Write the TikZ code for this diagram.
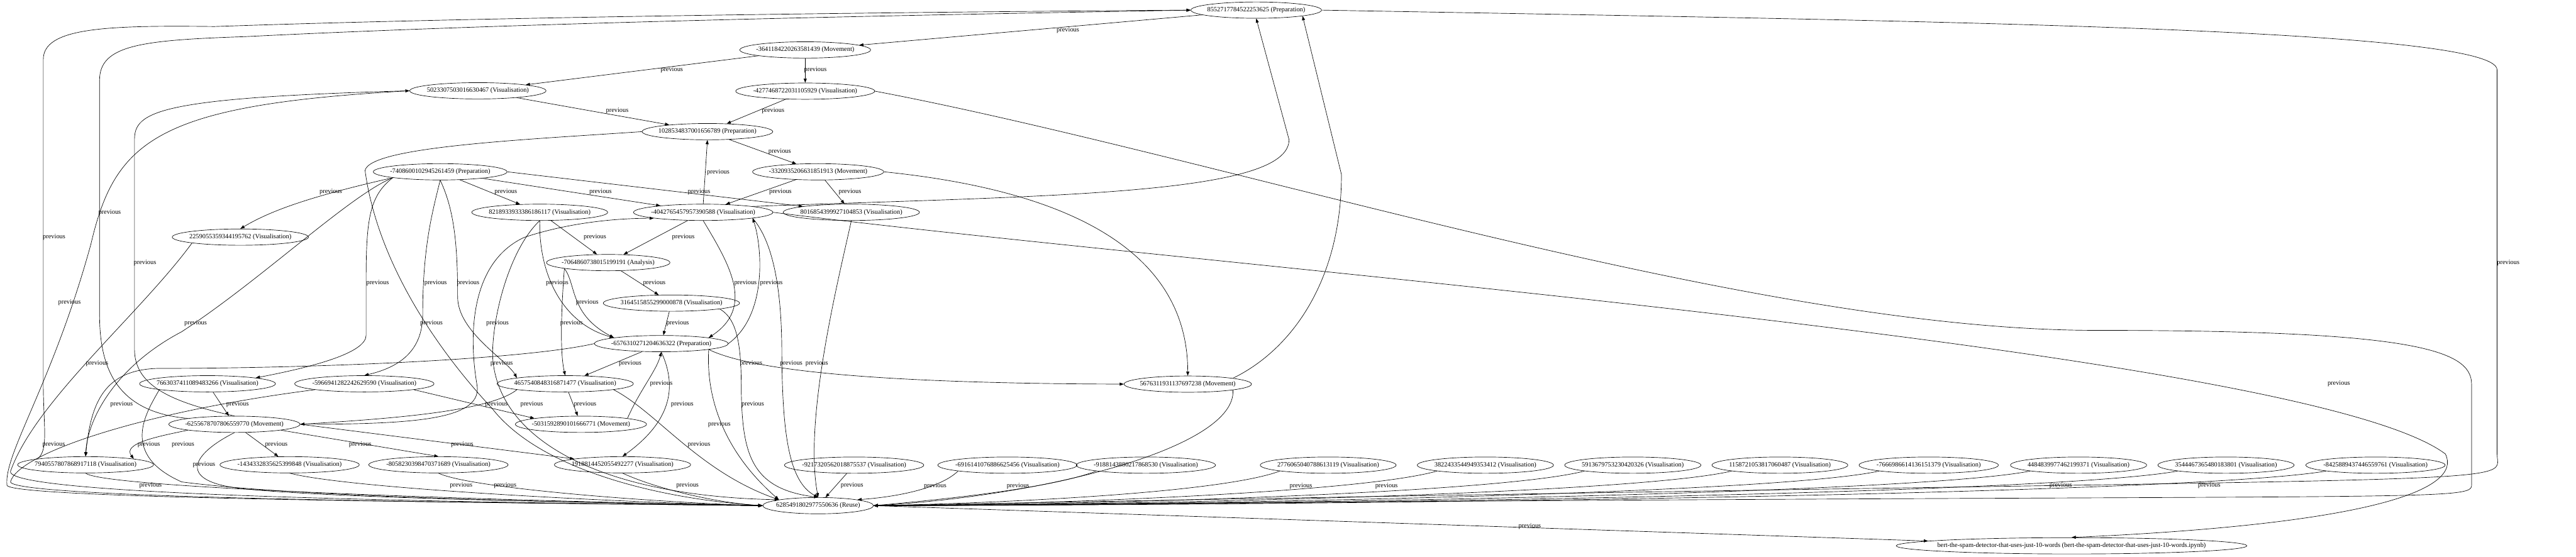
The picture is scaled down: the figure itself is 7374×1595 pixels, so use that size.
\documentclass[tikz,border=0pt]{standalone}
\usepackage{fontspec}
\setmainfont{Liberation Serif}
\usetikzlibrary{arrows.meta,shapes.geometric}
\begin{document}
\begin{tikzpicture}[x=0.75pt,y=-0.75pt,
  nd/.style={draw, ellipse, line width=0.9pt, minimum height=35pt, inner xsep=-6pt, inner ysep=0pt, font=\fontsize{14pt}{16pt}\selectfont},
  e/.style={draw, line width=0.9pt, -{Triangle[length=9pt,width=6.5pt]}},
  lb/.style={font=\fontsize{14pt}{16pt}\selectfont, inner sep=0pt}]
\useasboundingbox (0,0) rectangle (7374,1595);
% nodes
\node[nd] (A) at (3596,29) {8552717784522253625 (Preparation)};
\node[nd] (B) at (2305,143) {-3641184220263581439 (Movement)};
\node[nd] (C) at (1368,260) {5023307503016630467 (Visualisation)};
\node[nd] (D) at (2305,261) {-4277468722031105929 (Visualisation)};
\node[nd] (E) at (2025,377) {1028534837001656789 (Preparation)};
\node[nd] (F) at (1260,492) {-7408600102945261459 (Preparation)};
\node[nd] (G) at (2342,492) {-3320935206631851913 (Movement)};
\node[nd] (H) at (1545,608) {8218933933386186117 (Visualisation)};
\node[nd] (I) at (2013,608) {-4042765457957390588 (Visualisation)};
\node[nd] (J) at (2437,608) {8016854399927104853 (Visualisation)};
\node[nd] (K) at (688,679) {2259055359344195762 (Visualisation)};
\node[nd] (L) at (1741,752) {-7064860738015199191 (Analysis)};
\node[nd] (M) at (1922,868) {3164515855299000878 (Visualisation)};
\node[nd] (N) at (1893,984) {-6576310271204636322 (Preparation)};
\node[nd] (O) at (594,1099) {7663037411089483266 (Visualisation)};
\node[nd] (P) at (1043,1099) {-5966941282242629590 (Visualisation)};
\node[nd] (Q) at (1618,1099) {4657540848316871477 (Visualisation)};
\node[nd] (R) at (3400,1100) {5676311931137697238 (Movement)};
\node[nd] (S) at (671,1215) {-6255678707806559770 (Movement)};
\node[nd] (T) at (1663,1215) {-5031592890101666771 (Movement)};
\node[nd] (U) at (829,1331) {-1434332835625399848 (Visualisation)};
\node[nd] (V) at (1255,1331) {-8058230398470371689 (Visualisation)};
\node[nd] (W) at (1782,1331) {1918814452055492277 (Visualisation)};
\node[nd] (X) at (245,1331) {7940557807868917118 (Visualisation)};
\node[nd] (r1) at (2445,1332) {-9217320562018875537 (Visualisation)};
\node[nd] (r2) at (2884,1332) {-6916141076886625456 (Visualisation)};
\node[nd] (r3) at (3280,1332) {-9188143880217868530 (Visualisation)};
\node[nd] (r4) at (3802,1332) {2776065040788613119 (Visualisation)};
\node[nd] (r5) at (4252,1332) {3822433544949353412 (Visualisation)};
\node[nd] (r6) at (4674,1332) {5913679753230420326 (Visualisation)};
\node[nd] (r7) at (5095,1332) {1158721053817060487 (Visualisation)};
\node[nd] (r8) at (5521,1332) {-7666986614136151379 (Visualisation)};
\node[nd] (r9) at (5950,1332) {4484839977462199371 (Visualisation)};
\node[nd] (r10) at (6372,1332) {3544467365480183801 (Visualisation)};
\node[nd] (r11) at (6800,1332) {-8425889437446559761 (Visualisation)};
\node[nd] (root) at (2342,1448) {6285491802977550636 (Reuse)};
\node[nd, inner xsep=-22pt] (Z) at (5930,1563) {bert-the-spam-detector-that-uses-just-10-words (bert-the-spam-detector-that-uses-just-10-words.ipynb)};
% top part
\draw[e] (A) -- (B) node[lb] at (3057,87) {previous};
\draw[e] (B) -- (C) node[lb] at (1923,201) {previous};
\draw[e] (B) -- (D) node[lb] at (2334,201) {previous};
\draw[e] (C) -- (E) node[lb] at (1767,318) {previous};
\draw[e] (D) -- (E) node[lb] at (2213,318) {previous};
\draw[e] (I.north) -- (E.south) node[lb] at (2056,493) {previous};
\draw[e] (E) -- (G) node[lb] at (2232,434) {previous};
\draw[e] (F.south west) .. controls (900,560) and (780,600) .. (K.north) node[lb] at (947,550) {previous};
\draw[e] (F) -- (H) node[lb] at (1448,550) {previous};
\draw[e] (F) -- (I) node[lb] at (1719,550) {previous};
\draw[e] (F.east) -- (J.north west) node[lb] at (2001,550) {previous};
\draw[e] (G) -- (I) node[lb] at (2234,550) {previous};
\draw[e] (G) -- (J) node[lb] at (2433,550) {previous};
\draw[e] (H) -- (L) node[lb] at (1703,679) {previous};
\draw[e] (I) -- (L) node[lb] at (1956,679) {previous};
\draw[e] (L) -- (M) node[lb] at (1873,811) {previous};
\draw[e] (M) -- (N) node[lb] at (1940,925) {previous};
\draw[e] (L.south west) .. controls (1650,814) and (1630,900) .. (N.north west) node[lb] at (1681,867) {previous};
\draw[e] (L.south west) .. controls (1610,840) and (1600,1000) .. (Q.north) node[lb] at (1636,925) {previous};
\draw[e] (H.south) .. controls (1542,800) and (1620,930) .. (N.north west) node[lb] at (1595,811) {previous};
\draw[e] (I.south) .. controls (2090,760) and (2160,880) .. (N.north east) node[lb] at (2134,811) {previous};
\draw[e] (N.east) .. controls (2200,900) and (2180,700) .. (I.south east) node[lb] at (2208,811) {previous};
% left long edges
\draw[e] (X.north west) .. controls (140,1290) and (124,1220) .. (124,1100) -- (124,170) .. controls (124,80) and (300,72) .. (613,76) .. controls (1500,45) and (2800,33) .. (A.west) node[lb] at (155,679) {previous};
\draw[e] (S.north west) .. controls (330,1180) and (285,1050) .. (285,900) -- (285,230) .. controls (285,130) and (400,115) .. (700,105) .. controls (1600,60) and (2800,40) .. (A.west) node[lb] at (314,608) {previous};
\draw[e] (S.north) .. controls (480,1150) and (385,1100) .. (385,1000) -- (385,400) .. controls (385,320) and (450,280) .. (C.west) node[lb] at (415,753) {previous};
\draw[e] (C.west) .. controls (450,300) and (330,400) .. (260,700) .. controls (150,1100) and (10,1300) .. (20,1390) .. controls (40,1430) and (1500,1440) .. (root.west) node[lb] at (199,867) {previous};
\draw[e] (K.south west) .. controls (400,900) and (100,1150) .. (30,1350) .. controls (20,1425) and (1500,1440) .. (root.west) node[lb] at (278,1040) {previous};
\draw[e] (F.south west) .. controls (1000,560) and (750,800) .. (520,950) .. controls (330,1050) and (250,1200) .. (X.north) node[lb] at (560,925) {previous};
\draw[e] (N.west) .. controls (1500,1030) and (900,1055) .. (450,1055) .. controls (300,1060) and (260,1150) .. (X.north) node[lb] at (348,1157) {previous};
\draw[e] (P.south west) .. controls (400,1180) and (50,1300) .. (30,1380) .. controls (40,1430) and (1500,1440) .. (root.west) node[lb] at (154,1273) {previous};
\draw[e] (O.south west) .. controls (420,1180) and (340,1300) .. (520,1380) .. controls (900,1430) and (1800,1440) .. (root.west) node[lb] at (426,1273) {previous};
\draw[e] (O) -- (S) node[lb] at (680,1157) {previous};
\draw[e] (S.south west) .. controls (450,1250) and (350,1270) .. (X.north east) node[lb] at (524,1273) {previous};
\draw[e] (S) -- (U) node[lb] at (791,1273) {previous};
\draw[e] (S.south east) -- (V.north) node[lb] at (1031,1273) {previous};
\draw[e] (S.east) -- (W.north west) node[lb] at (1323,1273) {previous};
\draw[e] (S.south) .. controls (550,1300) and (500,1380) .. (700,1400) .. controls (1000,1430) and (1800,1440) .. (root.west) node[lb] at (584,1331) {previous};
\draw[e] (X.south) .. controls (300,1400) and (1500,1435) .. (root.west) node[lb] at (431,1390) {previous};
\draw[e] (U.south) .. controls (1000,1400) and (1800,1440) .. (root.west) node[lb] at (1320,1390) {previous};
\draw[e] (V.south) .. controls (1350,1400) and (1900,1440) .. (root.west) node[lb] at (1446,1390) {previous};
\draw[e] (W.south) .. controls (1880,1400) and (2050,1440) .. (root.west) node[lb] at (1968,1390) {previous};
% middle
\draw[e] (F.south west) .. controls (1060,560) and (1048,620) .. (1048,800) -- (1048,960) .. controls (1048,1010) and (900,1050) .. (O.north east) node[lb] at (1081,811) {previous};
\draw[e] (F.south) .. controls (1240,600) and (1210,700) .. (1210,900) .. controls (1210,1000) and (1150,1050) .. (P.north) node[lb] at (1247,811) {previous};
\draw[e] (F.south) .. controls (1300,600) and (1310,700) .. (1310,850) .. controls (1310,950) and (1450,1030) .. (Q.north west) node[lb] at (1340,811) {previous};
\draw[e] (E.west) .. controls (1500,400) and (1060,420) .. (1045,488) .. controls (1080,750) and (1250,1000) .. (1409,1170) .. controls (1550,1350) and (1900,1430) .. (root.west) node[lb] at (1235,925) {previous};
\draw[e] (H.south) .. controls (1460,712) and (1410,900) .. (1410,1017) .. controls (1420,1250) and (1700,1420) .. (root.north west) node[lb] at (1424,925) {previous};
\draw[e] (M.south east) .. controls (2114,915) and (2122,1000) .. (2122,1119) .. controls (2125,1300) and (2150,1400) .. (root.north) node[lb] at (2155,1157) {previous};
\draw[e] (I.south east) .. controls (2230,712) and (2238,900) .. (2238,1017) .. controls (2240,1250) and (2260,1380) .. (root.north) node[lb] at (2265,1040) {previous};
\draw[e] (J.south) .. controls (2400,800) and (2300,1200) .. (root.north) node[lb] at (2338,1040) {previous};
\draw[e] (S.east) .. controls (1200,1215) and (1385,1200) .. (1365,1100) .. controls (1340,950) and (1350,750) .. (1500,680) .. controls (1650,630) and (1800,625) .. (I.south west) node[lb] at (1436,1040) {previous};
\draw[e] (Q.south west) .. controls (1400,1180) and (1100,1200) .. (S.east) node[lb] at (1522,1157) {previous};
\draw[e] (P.south east) -- (T.north west) node[lb] at (1421,1157) {previous};
\draw[e] (Q) -- (T) node[lb] at (1675,1157) {previous};
\draw[e] (T.north east) .. controls (1830,1120) and (1880,1060) .. (N.south) node[lb] at (1893,1099) {previous};
\draw[e] (N) -- (Q) node[lb] at (1804,1040) {previous};
\draw[e] (N.south) .. controls (1935,1100) and (1930,1200) .. (W.north) node[lb] at (1953,1157) {previous};
\draw[e] (N.south east) .. controls (2020,1150) and (2080,1300) .. (root.north west) node[lb] at (2059,1215) {previous};
\draw[e] (N.south east) .. controls (2150,1060) and (2500,1098) .. (R.west) node[lb] at (2150,1040) {previous};
\draw[e] (Q.south east) .. controls (1880,1180) and (2000,1350) .. (root.north west) node[lb] at (2001,1273) {previous};
% bottom row into root
\draw[e] (r1) -- (root) node[lb] at (2439,1390) {previous};
\draw[e] (r2.south west) .. controls (2700,1390) and (2600,1420) .. (root.north east) node[lb] at (2677,1392) {previous};
\draw[e] (r3.south west) .. controls (3000,1400) and (2700,1430) .. (root.east) node[lb] at (2914,1392) {previous};
\draw[e] (r4.south west) .. controls (3500,1410) and (2900,1440) .. (root.east) node[lb] at (3724,1392) {previous};
\draw[e] (r5.south west) .. controls (3900,1410) and (3000,1445) .. (root.east) node[lb] at (3969,1392) {previous};
\draw[e] (r6.south west) .. controls (4300,1410) and (3200,1445) .. (root.east);
\draw[e] (r7.south west) .. controls (4700,1410) and (3400,1445) .. (root.east);
\draw[e] (r8.south west) .. controls (5100,1410) and (3600,1445) .. (root.east);
\draw[e] (r9.south west) .. controls (5500,1410) and (3800,1445) .. (root.east);
\draw[e] (r10.south west) .. controls (5900,1410) and (4000,1445) .. (root.east) node[lb] at (5899,1390) {previous};
\draw[e] (r11.south west) .. controls (6300,1410) and (4200,1445) .. (root.east) node[lb] at (6324,1390) {previous};
% right part
\draw[e] (root.east) -- (Z) node[lb] at (4379,1508) {previous};
\draw[e] (I.east) .. controls (3500,770) and (6600,1000) .. (7000,1300) .. controls (7050,1400) and (6800,1500) .. (Z.north) node[lb] at (6695,1099) {previous};
\draw[e] (A.east) .. controls (5500,60) and (7148,80) .. (7148,200) -- (7148,1300) .. controls (7148,1400) and (7380,1355) .. (root.east) node[lb] at (7180,753) {previous};
\draw[e] (D.east) .. controls (3500,450) and (5000,946) .. (6000,946) .. controls (6900,946) and (7075,1000) .. (7075,1100) -- (7075,1390) .. controls (7075,1440) and (6900,1410) .. (root.east);
\draw[e] (I.north east) .. controls (3000,560) and (3690,560) .. (3690,400) -- (A.south);
\draw[e] (G.east) .. controls (3200,560) and (3400,800) .. (R.north);
\draw[e] (R.north east) .. controls (3700,1000) and (3840,800) .. (3840,500) -- (A.south east);
\draw[e] (R.south east) .. controls (3540,1280) and (3000,1420) .. (root.east);
\end{tikzpicture}
\end{document}
